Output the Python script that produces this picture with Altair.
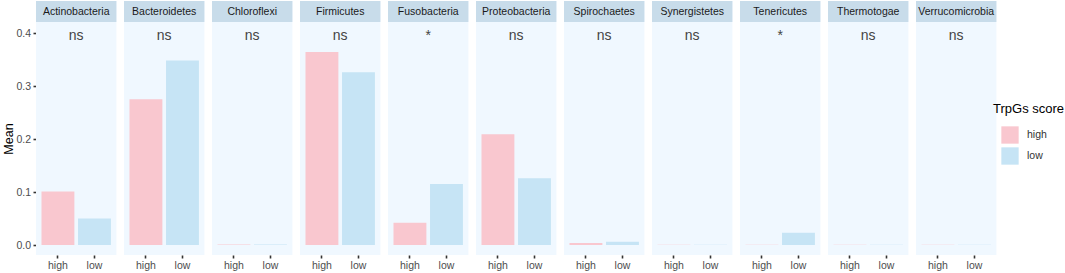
import altair as alt
import pandas as pd

phyla = ["Actinobacteria", "Bacteroidetes", "Chloroflexi", "Firmicutes", "Fusobacteria",
         "Proteobacteria", "Spirochaetes", "Synergistetes", "Tenericutes", "Thermotogae",
         "Verrucomicrobia"]
mean_high = [0.101, 0.275, 0.0008, 0.364, 0.042, 0.209, 0.004, 0.0006, 0.0006, 0.0006, 0.0006]
mean_low = [0.050, 0.348, 0.0008, 0.326, 0.115, 0.126, 0.006, 0.0006, 0.023, 0.0006, 0.0006]
sig_labels = ["ns", "ns", "ns", "ns", "*", "ns", "ns", "ns", "*", "ns", "ns"]
groups = ["high", "low"]
group_colors = ["#F9C7CF", "#C6E4F5"]
y_ticks = [0.0, 0.1, 0.2, 0.3, 0.4]

rows = []
for p, h, l, s in zip(phyla, mean_high, mean_low, sig_labels):
    rows.append({"phylum": p, "group": "high", "mean": h, "sig": s})
    rows.append({"phylum": p, "group": "low", "mean": l, "sig": s})
df = pd.DataFrame(rows)

FONT = "Liberation Sans"
W = 80.4
H = 254
STRIP = 21
PX_PER_UNIT = 530.0
y_zero_px = 244
y_domain = [-(H - y_zero_px) / PX_PER_UNIT, y_zero_px / PX_PER_UNIT]

x_enc = alt.X("group:N", sort=groups,
              scale=alt.Scale(paddingInner=0.1, paddingOuter=0.15),
              axis=alt.Axis(title=None, domain=False, labelAngle=0, tickSize=3, tickWidth=1.6,
                            tickColor="#333333", labelColor="#4D4D4D", labelFontSize=10.5,
                            labelPadding=2.5, labelFont=FONT))
y_enc = alt.Y("mean:Q", scale=alt.Scale(domain=y_domain, nice=False, zero=False),
              axis=alt.Axis(title="Mean", values=y_ticks, format=".1f", domain=False, grid=False,
                            tickSize=3, tickWidth=1.6, tickColor="#333333", labelColor="#4D4D4D",
                            labelFontSize=10.5, labelPadding=2.5, labelFont=FONT,
                            titleFont=FONT, titleFontSize=12.5, titleFontWeight="normal",
                            titleColor="#000000", titleX=-28, titleY=137.5, titleAngle=270,
                            titleAlign="center", titleBaseline="middle"))

bars = alt.Chart().mark_bar().encode(
    x=x_enc,
    y=y_enc,
    y2=alt.datum(0),
    color=alt.Color("group:N", sort=groups,
                    scale=alt.Scale(domain=groups, range=group_colors),
                    legend=alt.Legend(title="TrpGs score", orient="none", legendX=957, legendY=102,
                                      symbolType="square", symbolSize=300, symbolStrokeWidth=0,
                                      symbolOffset=8, labelOffset=8, rowPadding=3, padding=0,
                                      titleFont=FONT, titleFontSize=13, titleFontWeight="normal",
                                      titleColor="#000000", titlePadding=10,
                                      labelFont=FONT, labelFontSize=10.5, labelColor="#333333")),
)

strip = alt.Chart().mark_rect(color="#C8DCEA").encode(
    x=alt.value(0), x2=alt.value(W), y=alt.value(0), y2=alt.value(STRIP)
).transform_filter(alt.datum.group == "high")

strip_text = alt.Chart().mark_text(font=FONT, fontSize=10.5, color="#1A1A1A",
                                   baseline="middle", align="center").encode(
    x=alt.value(W / 2), y=alt.value(STRIP / 2), text="phylum:N"
).transform_filter(alt.datum.group == "high")

sig_text = alt.Chart().mark_text(font=FONT, fontSize=14, color="#444444",
                                 baseline="middle", align="center").encode(
    x=alt.value(W / 2), y=alt.value(35), text="sig:N"
).transform_filter(alt.datum.group == "high")

chart = alt.layer(bars, strip, strip_text, sig_text, data=df).properties(
    width=W, height=H
).facet(
    column=alt.Column("phylum:N", sort=phyla, header=None),
    spacing=7,
).configure_view(
    fill="#F0F8FF", stroke=None
).properties(
    padding={"left": 2, "top": 1, "right": 0, "bottom": 0}, background="white"
)

chart.save("out.html", embed_options={"renderer": "svg", "actions": False})
